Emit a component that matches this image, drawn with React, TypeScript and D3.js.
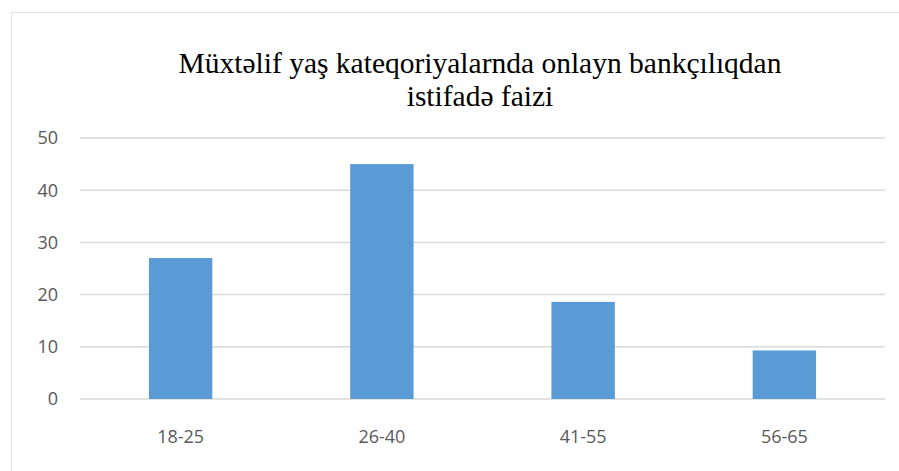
import React from "react";
import * as d3 from "d3";

const categories = ["18-25", "26-40", "41-55", "56-65"];
const values = [27, 45, 18.6, 9.3];
const yTicks = [0, 10, 20, 30, 40, 50];
const titleLines = ["Müxtəlif yaş kateqoriyalarnda onlayn bankçılıqdan", "istifadə faizi"];

const W = 899;
const H = 471;
const margin = { left: 80, right: 14, top: 138, bottom: 72 };

export default function App() {
  const x = d3
    .scaleBand<string>()
    .domain(categories)
    .range([margin.left, W - margin.right])
    .paddingInner(0.685)
    .paddingOuter(0.3425);
  const y = d3.scaleLinear().domain([0, 50]).range([399, 138]);

  return (
    <svg
      width={W}
      height={H}
      style={{ position: "absolute", left: 0, top: 0, background: "#fff" }}
    >
      <rect x={11.5} y={12.5} width={W} height={H} fill="#fff" stroke="#e3e3e3" strokeWidth={1} />
      <g>
        {titleLines.map((t, i) => (
          <text
            key={i}
            x={480}
            y={73 + i * 33}
            textAnchor="middle"
            fontFamily="'Liberation Serif', 'Times New Roman', serif"
            fontSize={29.5}
            fill="#000"
          >
            {t}
          </text>
        ))}
      </g>
      <g>
        {yTicks.map((t) => (
          <g key={t}>
            <line
              x1={margin.left}
              x2={W - margin.right}
              y1={y(t)}
              y2={y(t)}
              stroke="#d9d9d9"
              strokeWidth={1.5}
            />
            <text
              x={58}
              y={y(t)}
              dy="0.36em"
              textAnchor="end"
              fontFamily="'Open Sans', sans-serif"
              fontSize={18}
              fill="#595959"
            >
              {t}
            </text>
          </g>
        ))}
      </g>
      <g>
        {categories.map((c, i) => (
          <rect
            key={c}
            x={x(c)}
            y={y(values[i])}
            width={x.bandwidth()}
            height={y(0) - y(values[i])}
            fill="#5b9bd5"
          />
        ))}
      </g>
      <g>
        {categories.map((c) => (
          <text
            key={c}
            x={(x(c) as number) + x.bandwidth() / 2}
            y={437}
            dy="0.36em"
            textAnchor="middle"
            fontFamily="'Open Sans', sans-serif"
            fontSize={18}
            fill="#595959"
          >
            {c}
          </text>
        ))}
      </g>
    </svg>
  );
}
